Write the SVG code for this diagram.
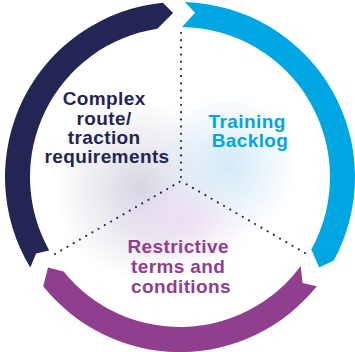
<svg xmlns="http://www.w3.org/2000/svg" width="355" height="352" viewBox="0 0 355 352">
  <defs>
    <radialGradient id="hazeGrey" cx="0.5" cy="0.5" r="0.5">
      <stop offset="0" stop-color="#d6d6e2" stop-opacity="1"/>
      <stop offset="1" stop-color="#d6d6e2" stop-opacity="0"/>
    </radialGradient>
    <radialGradient id="hazeBlue" cx="0.5" cy="0.5" r="0.5">
      <stop offset="0" stop-color="#d3e9f8" stop-opacity="1"/>
      <stop offset="1" stop-color="#d3e9f8" stop-opacity="0"/>
    </radialGradient>
    <radialGradient id="hazeViolet" cx="0.5" cy="0.5" r="0.5">
      <stop offset="0" stop-color="#ecdcf0" stop-opacity="0.9"/>
      <stop offset="1" stop-color="#ecdcf0" stop-opacity="0"/>
    </radialGradient>
    <style>
      .label { font-family: "Liberation Sans", Arial, sans-serif; font-weight: bold; font-size: 19px; letter-spacing: 0.4px; text-anchor: middle; }
      .spoke { fill: none; stroke: #232654; stroke-width: 2.2; stroke-linecap: round; stroke-dasharray: 0 7.2; }
    </style>
  </defs>

  <rect width="355" height="352" fill="#ffffff"/>

  <!-- soft background glow behind the centre -->
  <g id="background">
    <ellipse cx="140" cy="190" rx="85" ry="90" fill="url(#hazeGrey)"/>
    <ellipse cx="228" cy="165" rx="70" ry="72" fill="url(#hazeBlue)"/>
    <ellipse cx="180" cy="222" rx="75" ry="45" fill="url(#hazeViolet)"/>
  </g>

  <!-- dotted dividers -->
  <g id="connectors">
    <line class="spoke" x1="181" y1="33" x2="181" y2="181"/>
    <line class="spoke" x1="305" y1="253" x2="181" y2="181"/>
    <line class="spoke" x1="55" y1="254" x2="181" y2="181"/>
  </g>

  <g id="complex-route">
    <path fill="#232654" d="M 30.3 267.6 A 175 175 0 0 1 162.9 2.8 L 173.1 13.1 L 157.3 28.7 A 150 150 0 0 0 49.2 250.4 L 36.1 253.5 Z"/>
    <text class="label" fill="#232654">
      <tspan x="107" y="105">Complex</tspan>
      <tspan x="107" y="124.5">route/</tspan>
      <tspan x="107" y="143.5">traction</tspan>
      <tspan x="107" y="163">requirements</tspan>
    </text>
  </g>

  <g id="training-backlog">
    <path fill="#00a6e2" d="M 184.9 2.1 A 175 175 0 0 1 333.8 260.5 L 319.2 267.4 L 311.3 249.5 A 150 150 0 0 0 182.1 27.0 L 195.0 12.7 Z"/>
    <text class="label" fill="#00a6e2">
      <tspan x="250" y="128">Training</tspan>
      <tspan x="250" y="147">Backlog</tspan>
    </text>
  </g>

  <g id="restrictive-terms">
    <path fill="#8f3f8d" d="M 316.8 286.2 A 175 175 0 0 1 43.2 286.2 L 48.0 267.4 L 63.6 271.6 A 150 150 0 0 0 300.7 266.0 L 302.6 282.9 Z"/>
    <text class="label" fill="#8f3f8d">
      <tspan x="181" y="253">Restrictive</tspan>
      <tspan x="181" y="273">terms and</tspan>
      <tspan x="181" y="292.5">conditions</tspan>
    </text>
  </g>
</svg>
